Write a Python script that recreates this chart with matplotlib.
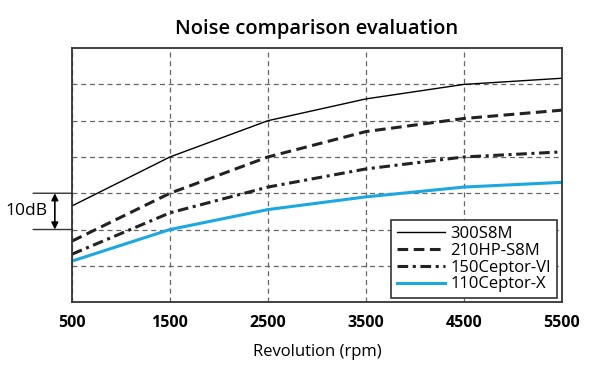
import matplotlib.pyplot as plt

rpm = [500, 1500, 2500, 3500, 4500, 5500]
noise_300s8m = [26.5, 40, 50, 56, 60, 61.7]
noise_210hp = [16.8, 30, 40, 47, 50.6, 52.9]
noise_150ceptor = [13.2, 24.6, 31.7, 36.7, 40, 41.4]
noise_110ceptor = [11.3, 20, 25.5, 29, 31.7, 33]
xticks = [500, 1500, 2500, 3500, 4500, 5500]

plt.rcParams['font.family'] = ['Open Sans', 'DejaVu Sans']

fig = plt.figure(figsize=(6.1, 3.79), dpi=100)
ax = fig.add_axes([0.118, 0.203, 0.803, 0.670])

ax.plot(rpm, noise_300s8m, color='black', lw=1.0, label='300S8M')
ax.plot(rpm, noise_210hp, color='#222222', lw=2.2, ls=(0, (3.5, 1.8)), label='210HP-S8M')
ax.plot(rpm, noise_150ceptor, color='#222222', lw=2.2, ls=(0, (3.5, 1.5, 1, 1.5)), label='150Ceptor-VI')
ax.plot(rpm, noise_110ceptor, color='#1ba8e0', lw=2.2, label='110Ceptor-X')

ax.set_xlim(500, 5500)
ax.set_ylim(0, 70)
ax.set_xticks(xticks)
ax.set_xticklabels([str(v) for v in xticks], fontsize=11.5, fontweight='bold')
ax.set_yticks([10, 20, 30, 40, 50, 60])
ax.set_yticklabels([])
ax.tick_params(length=0, pad=9)
ax.grid(True, color='#666666', ls=(0, (4, 3)), lw=0.9)
for s in ax.spines.values():
    s.set_color('#333333')
    s.set_linewidth(1.3)

ax.set_title('Noise comparison evaluation', fontsize=14.5, fontweight='semibold', pad=10)
ax.set_xlabel('Revolution (rpm)', fontsize=12, labelpad=10)

# 10dB scale marker
for yv in (20, 30):
    ax.annotate('', xy=(0, yv), xycoords=('axes fraction', 'data'),
                xytext=(-28, 0), textcoords='offset points',
                arrowprops=dict(arrowstyle='-', color='#333333', lw=1.0,
                                shrinkA=0, shrinkB=0))
ax.annotate('', xy=(-0.035, 30), xycoords=('axes fraction', 'data'),
            xytext=(-0.035, 20), textcoords=('axes fraction', 'data'),
            arrowprops=dict(arrowstyle='<|-|>', color='black', lw=1.2,
                            mutation_scale=10, shrinkA=0, shrinkB=0))
ax.text(-0.049, 25, '10dB', transform=ax.get_yaxis_transform(),
        ha='right', va='center', fontsize=12.5)

leg = ax.legend(loc='lower right', fontsize=12, frameon=True, fancybox=False,
                edgecolor='#333333', handlelength=2.9, handletextpad=0.3,
                labelspacing=0.05, borderpad=0.35, borderaxespad=0,
                bbox_to_anchor=(0.99, 0.015))
leg.get_frame().set_linewidth(1.2)
leg.get_frame().set_alpha(1)

fig.savefig('out.png', dpi=100)
